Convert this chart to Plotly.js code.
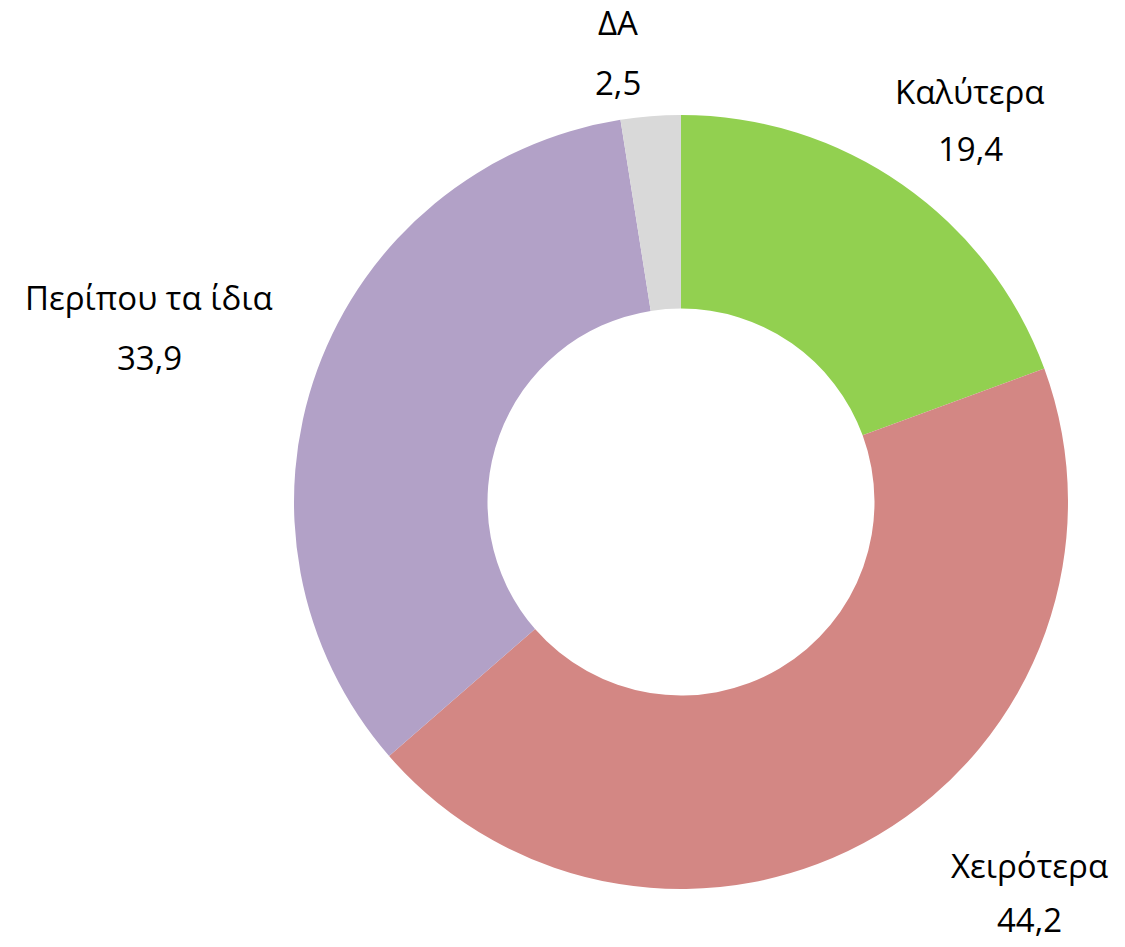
<!DOCTYPE html>
<html>
<head>
<meta charset="utf-8">
<script src="https://cdn.plot.ly/plotly-3.0.1.min.js"></script>
<style>html,body{margin:0;padding:0;background:#fff;}#chart{width:1125px;height:947px;}</style>
</head>
<body>
<div id="chart"></div>
<script>
const categories = ["Καλύτερα", "Χειρότερα", "Περίπου τα ίδια", "ΔΑ"];
const values = [19.4, 44.2, 33.9, 2.5];
const colors = ["#92D050", "#D38784", "#B2A1C7", "#D9D9D9"];
// label placement (pixel centres of name line and value line)
const labelPos = [
  {x: 970, yName: 92, yVal: 149},
  {x: 1029, yName: 865, yVal: 919},
  {x: 149, yName: 298, yVal: 357},
  {x: 618, yName: 23, yVal: 82}
];

const W = 1125, H = 947;
const cx = 681, cy = 502, R = 387;
const FONT = {size: 33, color: '#000', family: 'Open Sans, Noto Sans, sans-serif'};

function fmt(v){ return v.toFixed(1).replace('.', ','); }

const annotations = [];
categories.forEach((c, i) => {
  const p = labelPos[i];
  annotations.push({text: c, x: p.x / W, y: 1 - p.yName / H, xref: 'paper', yref: 'paper',
    showarrow: false, xanchor: 'center', yanchor: 'middle', font: FONT});
  annotations.push({text: fmt(values[i]), x: p.x / W, y: 1 - p.yVal / H, xref: 'paper', yref: 'paper',
    showarrow: false, xanchor: 'center', yanchor: 'middle', font: FONT});
});

const data = [{
  type: 'pie',
  labels: categories,
  values: values,
  marker: {colors: colors, line: {width: 0}},
  hole: 0.5,
  sort: false,
  direction: 'clockwise',
  rotation: 0,
  textinfo: 'none',
  hoverinfo: 'label+value',
  domain: {x: [(cx - R) / W, (cx + R) / W], y: [1 - (cy + R) / H, 1 - (cy - R) / H]}
}];

const layout = {
  width: W, height: H,
  margin: {l: 0, r: 0, t: 0, b: 0},
  showlegend: false,
  paper_bgcolor: '#fff',
  annotations: annotations
};

Plotly.newPlot('chart', data, layout, {displayModeBar: false, staticPlot: true});
</script>
</body>
</html>
